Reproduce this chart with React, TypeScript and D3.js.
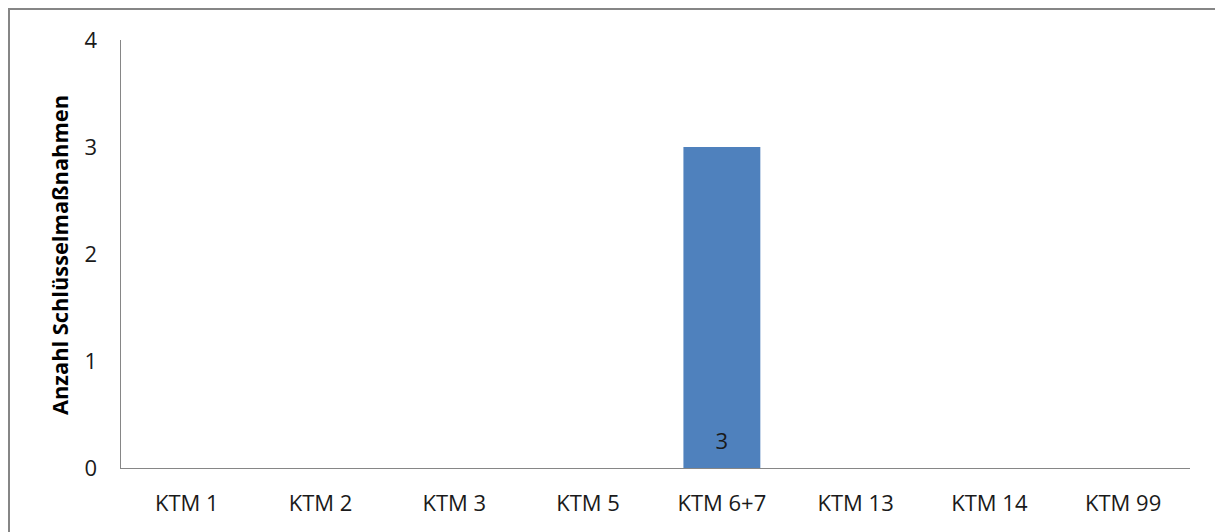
import React from "react";
import * as d3 from "d3";

const categories = ["KTM 1", "KTM 2", "KTM 3", "KTM 5", "KTM 6+7", "KTM 13", "KTM 14", "KTM 99"];
const values = [0, 0, 0, 0, 3, 0, 0, 0];
const yTicks = [0, 1, 2, 3, 4];
const yTitle = "Anzahl Schlüsselmaßnahmen";

export default function App() {
  const W = 1215, H = 532;
  const left = 120, right = 1190, top = 40, bottom = 468;
  const x = d3.scaleBand<string>().domain(categories).range([left, right]).paddingInner(0.425).paddingOuter(0.2125);
  const y = d3.scaleLinear().domain([0, 4]).range([bottom, top]);
  const font = "'Open Sans', sans-serif";
  return (
    <svg width={W} height={H} style={{ position: "absolute", left: 0, top: 0, background: "#fff" }} fontFamily={font}>
      <rect x={9} y={9} width={W + 20} height={H + 20} fill="#fff" stroke="#868686" strokeWidth={2} />
      {categories.map((c, i) =>
        values[i] > 0 ? (
          <g key={c}>
            <rect x={x(c)!} y={y(values[i])} width={x.bandwidth()} height={y(0) - y(values[i])} fill="#4f81bd" />
            <text x={x(c)! + x.bandwidth() / 2} y={y(0) - 19} textAnchor="middle" fontSize={22} fill="#1a1a1a">{values[i]}</text>
          </g>
        ) : null
      )}
      <line x1={left + 0.5} x2={left + 0.5} y1={top} y2={bottom} stroke="#868686" strokeWidth={1} />
      <line x1={left} x2={right} y1={bottom + 0.5} y2={bottom + 0.5} stroke="#868686" strokeWidth={1} />
      {yTicks.map((t) => (
        <text key={t} x={97} y={y(t) + 8} textAnchor="end" fontSize={22} fill="#1a1a1a">{t}</text>
      ))}
      {categories.map((c) => (
        <text key={c} x={x(c)! + x.bandwidth() / 2} y={511} textAnchor="middle" fontSize={22} fill="#1a1a1a">{c}</text>
      ))}
      <text transform={`translate(68,${(top + bottom) / 2 + 1}) rotate(-90)`} textAnchor="middle" fontSize={21.8} fontWeight="bold" fill="#000">{yTitle}</text>
    </svg>
  );
}
